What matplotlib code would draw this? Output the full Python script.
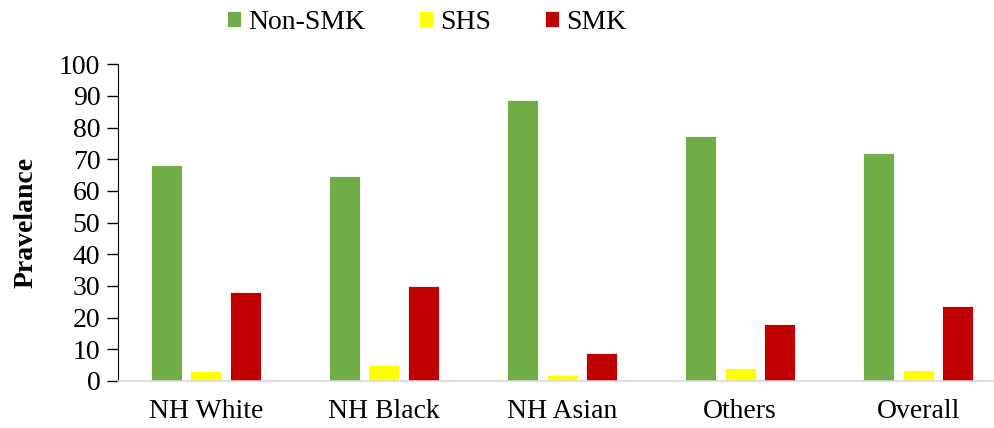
import matplotlib
matplotlib.use("Agg")
import matplotlib.pyplot as plt
import numpy as np

# prevalence by group
groups = ['NH White', 'NH Black', 'NH Asian', 'Others', 'Overall']
non_smk = [68.3, 64.7, 88.8, 77.4, 72.1]
shs = [3.1, 4.9, 1.8, 4.0, 3.6]
smk = [28.2, 30.0, 8.7, 17.9, 23.6]

series = [('Non-SMK', non_smk, '#70ad47'),
          ('SHS', shs, '#ffff00'),
          ('SMK', smk, '#c00000')]

plt.rcParams['font.family'] = 'Liberation Serif'

fig = plt.figure(figsize=(9.95, 4.28), dpi=100)
ax = fig.add_axes([0.119, 0.110, 0.881, 0.740])

x = np.arange(len(groups))
slot = 0.222
width = 0.174
for i, (name, vals, col) in enumerate(series):
    ax.bar(x + (i - 1) * slot, vals, width, color=col, label=name,
           edgecolor='white', linewidth=0.6)

ax.set_xlim(-0.49, 4.43)
ax.set_ylim(0, 100)
ax.set_yticks(range(0, 101, 10))
ax.set_xticks(x)
ax.set_xticklabels(groups)
ax.tick_params(axis='x', length=0, pad=13, labelsize=20)
ax.tick_params(axis='y', length=8, width=1, direction='out', pad=5, labelsize=20)

ax.spines['top'].set_visible(False)
ax.spines['right'].set_visible(False)
ax.spines['left'].set_color('black')
ax.spines['bottom'].set_color('#d9d9d9')
ax.spines['bottom'].set_linewidth(1.2)

ax.set_ylabel('Pravelance', fontsize=20, fontweight='bold', labelpad=15)

ax.legend(loc='upper center', bbox_to_anchor=(0.352, 1.25), ncol=3,
          frameon=False, fontsize=20, handlelength=0.5, handleheight=0.5,
          handletextpad=0.25, columnspacing=1.95)

plt.savefig('out.png', dpi=100)
